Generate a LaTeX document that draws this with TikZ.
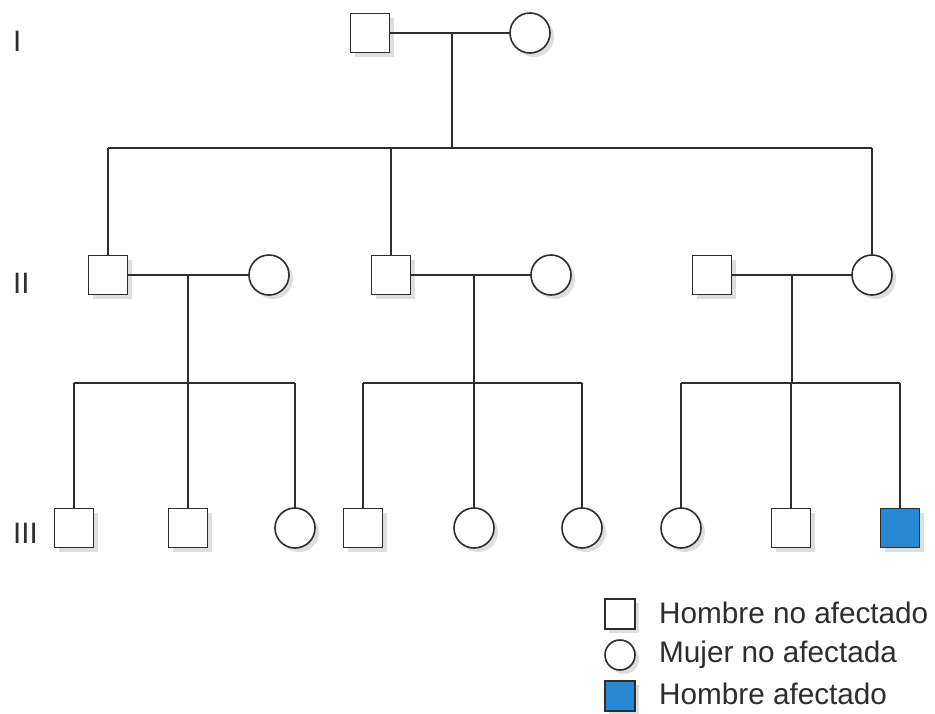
\documentclass[tikz,border=0pt]{standalone}
\usepackage{fontspec}
\setmainfont{Liberation Sans}
\usetikzlibrary{shadows}
\definecolor{ink}{RGB}{45,45,45}
\definecolor{affected}{RGB}{40,137,210}
\tikzset{
  person/.style={draw=ink, line width=1.6pt, fill=white, inner sep=0pt, outer sep=0pt,
    drop shadow={shadow xshift=4pt, shadow yshift=-4pt, fill=black!25}},
  male/.style={person, rectangle, minimum size=39pt},
  female/.style={person, circle, minimum size=40pt},
  ill/.style={fill=affected},
  keymale/.style={person, rectangle, minimum size=30pt},
  keyfemale/.style={person, circle, minimum size=30pt},
  link/.style={draw=ink, line width=1.6pt},
  gen/.style={text=ink, font=\fontsize{29.5}{32}\selectfont, inner sep=0pt, anchor=west},
  keytext/.style={text=ink, font=\fontsize{29.7}{32}\selectfont, inner sep=0pt, anchor=west}
}
\begin{document}
\begin{tikzpicture}[x=1pt, y=-1pt]
\useasboundingbox[fill=white] (0,0) rectangle (935,713);

% generation labels
\node[gen] (gI)   at (13,41)  {I};
\node[gen] (gII)  at (13,283) {II};
\node[gen] (gIII) at (13,533) {III};

% generation I
\node[male]   (i1) at (370,33) {};
\node[female] (i2) at (530,33) {};

% generation II
\node[male]   (a1) at (108,275) {};
\node[female] (a2) at (269,275) {};
\node[male]   (b1) at (391,275) {};
\node[female] (b2) at (551,275) {};
\node[male]   (c1) at (712,275) {};
\node[female] (c2) at (872,275) {};

% generation III
\node[male]   (a3) at (74,528)  {};
\node[male]   (a4) at (188,528) {};
\node[female] (a5) at (295,528) {};
\node[male]   (b3) at (363,528) {};
\node[female] (b4) at (474,528) {};
\node[female] (b5) at (582,528) {};
\node[female] (c3) at (681,528) {};
\node[male]   (c4) at (791,528) {};
\node[male, ill] (c5) at (900,528) {};

% marriage lines and descent points
\coordinate (mI) at (452,33);
\coordinate (sI) at (452,148);
\draw[link] (i1.east) -- (i2.west);
\draw[link] (mI) -- (sI);
\draw[link] (a1.north |- sI) -- (c2.north |- sI);
\draw[link] (a1.north |- sI) -- (a1.north);
\draw[link] (b1.north |- sI) -- (b1.north);
\draw[link] (c2.north |- sI) -- (c2.north);

\coordinate (mA) at (188,275);
\coordinate (sA) at (188,383);
\draw[link] (a1.east) -- (a2.west);
\draw[link] (mA) -- (sA);
\draw[link] (a3.north |- sA) -- (a5.north |- sA);
\foreach \k in {a3,a4,a5} \draw[link] (\k.north |- sA) -- (\k.north);

\coordinate (mB) at (474,275);
\coordinate (sB) at (474,383);
\draw[link] (b1.east) -- (b2.west);
\draw[link] (mB) -- (sB);
\draw[link] (b3.north |- sB) -- (b5.north |- sB);
\foreach \k in {b3,b4,b5} \draw[link] (\k.north |- sB) -- (\k.north);

\coordinate (mC) at (792,275);
\coordinate (sC) at (792,383);
\draw[link] (c1.east) -- (c2.west);
\draw[link] (mC) -- (sC);
\draw[link] (c3.north |- sC) -- (c5.north |- sC);
\foreach \k in {c3,c4,c5} \draw[link] (\k.north |- sC) -- (\k.north);

% legend
\node[keymale]      (k1) at (620,614) {};
\node[keyfemale]    (k2) at (620,655) {};
\node[keymale, ill] (k3) at (620,696) {};
\node[keytext] (t1) at (659,613) {Hombre no afectado};
\node[keytext] (t2) at (659,655) {Mujer no afectada};
\node[keytext] (t3) at (659,694) {Hombre afectado};
\end{tikzpicture}
\end{document}
